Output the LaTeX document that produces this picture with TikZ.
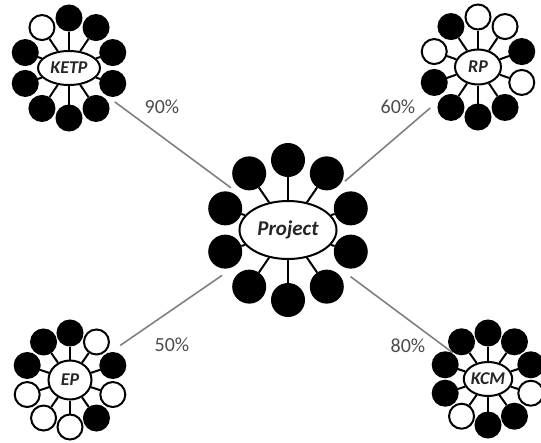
\documentclass[tikz,border=0pt]{standalone}
\usepackage{fontspec}
\setmainfont{Carlito}
\usetikzlibrary{shapes.geometric}

\begin{document}
\begin{tikzpicture}[x=1pt,y=-1pt,
  hub/.style={draw, ellipse, line width=2pt, inner sep=0pt, text=black!85,
    font=\fontsize{18}{18}\selectfont\bfseries\itshape},
  ball/.style={circle, draw, fill=black, line width=2pt, inner sep=0pt},
  ring/.style={circle, draw, fill=white, line width=2pt, inner sep=0pt},
  spoke/.style={line width=2pt},
  link/.style={draw=black!50, line width=1.6pt},
  pct/.style={text=black!70, font=\fontsize{20}{20}\selectfont}]

  \useasboundingbox (0,0) rectangle (541,442);

  % links between the clusters
  \node[hub, minimum width=97pt, minimum height=58pt,
    font=\fontsize{21}{21}\selectfont\bfseries\itshape] (project) at (288,230) {Project};
  \node[hub, minimum width=62pt, minimum height=34pt] (ketp) at (69,68)  {KETP};
  \node[hub, minimum width=46pt, minimum height=35pt] (rp)   at (478,67) {RP};
  \node[hub, minimum width=43pt, minimum height=39pt] (ep)   at (70,380) {EP};
  \node[hub, minimum width=46pt, minimum height=34pt] (kcm)  at (488,379) {KCM};

  \draw[link, shorten <=57pt, shorten >=71pt] (ketp.center) -- (project.center);
  \draw[link, shorten <=63pt, shorten >=75pt] (rp.center)   -- (project.center);
  \draw[link, shorten <=61pt, shorten >=80pt] (ep.center)   -- (project.center);
  \draw[link, shorten <=44pt, shorten >=78pt] (kcm.center)  -- (project.center);

  \node[pct] (p90) at (162,107) {90\%};
  \node[pct] (p60) at (398,107) {60\%};
  \node[pct] (p50) at (172,345) {50\%};
  \node[pct] (p80) at (408,346) {80\%};

  % circles, clockwise from the top
  \foreach \s [count=\i, evaluate=\i as \a using 126-36*\i] in
      {ball,ball,ball,ball,ball,ball,ball,ball,ball,ball}
    \node[\s, minimum size=32pt] (project-\i) at ([shift={(\a:66pt and 70pt)}]project.center) {};
  \foreach \s [count=\i, evaluate=\i as \a using 126-36*\i] in
      {ball,ball,ball,ball,ball,ball,ball,ball,ball,ring}
    \node[\s, minimum size=25pt] (ketp-\i) at ([shift={(\a:46pt and 50pt)}]ketp.center) {};
  \foreach \s [count=\i, evaluate=\i as \a using 126-36*\i] in
      {ring,ring,ball,ring,ball,ball,ball,ball,ring,ball}
    \node[\s, minimum size=25pt] (rp-\i) at ([shift={(\a:46pt and 50pt)}]rp.center) {};
  \foreach \s [count=\i, evaluate=\i as \a using 126-36*\i] in
      {ball,ring,ball,ring,ball,ring,ring,ring,ball,ball}
    \node[\s, minimum size=25pt] (ep-\i) at ([shift={(\a:45pt and 47pt)}]ep.center) {};
  \foreach \s [count=\i, evaluate=\i as \a using 126-36*\i] in
      {ball,ball,ball,ring,ball,ball,ring,ball,ball,ball}
    \node[\s, minimum size=25pt] (kcm-\i) at ([shift={(\a:45pt and 46pt)}]kcm.center) {};

  % spokes
  \foreach \h in {project,ketp,rp,ep,kcm}
    \foreach \i in {1,...,10}
      \draw[spoke] (\h) -- (\h-\i);

\end{tikzpicture}
\end{document}
